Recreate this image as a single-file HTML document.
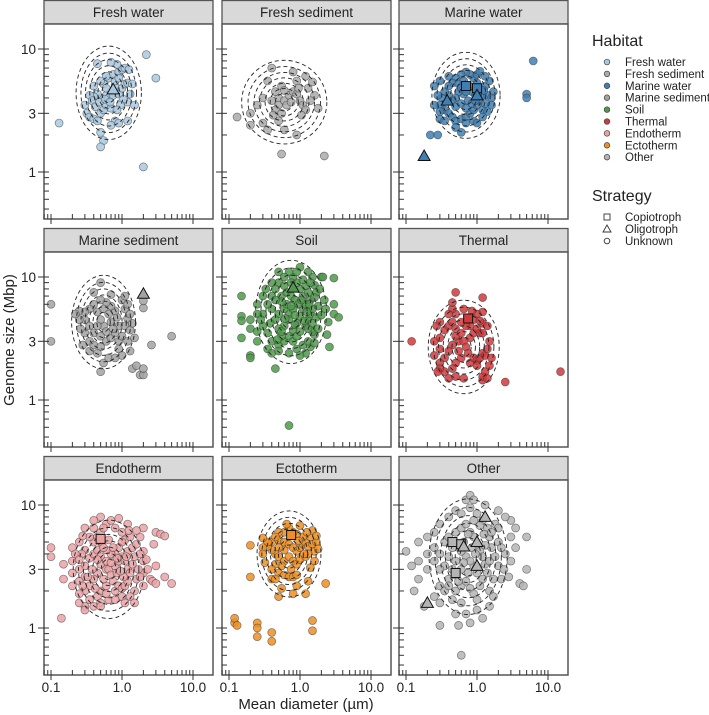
<!DOCTYPE html>
<html><head><meta charset="utf-8"><style>
body{margin:0;background:#fff}
svg{display:block;font-family:"Liberation Sans",Arial,sans-serif}
</style></head><body>
<svg id="chart" width="709" height="715" viewBox="0 0 709 715">
<g id="panels"></g>
<text x="306" y="709" font-size="15" text-anchor="middle" fill="#222">Mean diameter (µm)</text>
<text transform="translate(14,340) rotate(-90)" font-size="15" text-anchor="middle" fill="#222">Genome size (Mbp)</text>
<g font-size="11.5" fill="#222">
<text x="592" y="46" font-size="16">Habitat</text>
<g id="hab"></g>
<text x="592" y="201" font-size="16">Strategy</text>
<g id="strat"></g>
</g>
</svg>
<script>
const habitats=["Fresh water","Fresh sediment","Marine water","Marine sediment","Soil","Thermal","Endotherm","Ectotherm","Other"];
const colors=["#a9c9e1","#aaaaaa","#3f7fb3","#a2a2a2","#4e9a4a","#cf3a3c","#eba2a4","#ed8f22","#b4b4b4"];
const freshWater=[[0.7,4.5],[0.6,4.2],[0.8,5],[0.5,4],[0.45,4.3],[0.4,4.1],[0.35,4.2],[0.55,5.2],[0.65,5.8],[0.75,6.2],[0.9,6.5],[1.0,6.8],[0.85,7.5],[0.7,7.8],[0.45,7.6],[1.1,7],[0.6,6],[0.5,5.5],[0.4,5],[0.3,3.5],[0.32,3],[0.35,2.8],[0.4,2.7],[0.45,2.6],[0.5,3],[0.55,3.2],[0.6,3.5],[0.7,3.3],[0.8,2.6],[0.7,2.4],[0.9,2.5],[0.5,2.1],[0.55,1.8],[0.5,1.6],[0.65,4],[0.75,4.2],[0.9,4.3],[1.0,4.8],[1.1,5.2],[1.2,3.7],[1.05,3.9],[0.95,3.5],[0.85,3.2],[0.6,4.8],[0.8,5.5],[0.9,5.8],[0.38,3.8],[0.42,3.4],[0.48,3.7],[0.58,3.9],[0.68,3.7],[0.13,2.5],[2.2,9],[3,5.8],[2,1.1],[1.2,5.3],[1.25,6.8],[1.3,4.3],[1.4,5.2],[1.2,2.6],[1.5,3.5]];
const freshSediment=[[0.5,4],[0.45,4.5],[0.55,5],[0.5,3.5],[0.45,3.2],[0.55,3],[0.6,3.8],[0.7,4.2],[0.8,4.5],[0.9,4.3],[1.0,3.8],[1.1,3.5],[1.2,3.2],[0.9,5.5],[0.8,6.5],[0.4,7],[0.35,5.5],[0.3,4],[0.25,3.5],[0.2,3],[0.13,2.8],[0.2,2.4],[0.3,2.5],[0.35,2.2],[0.5,2.6],[0.6,2.2],[0.9,2],[1.6,4.2],[1.8,3.3],[0.55,1.4],[2.2,1.35],[0.65,3.5],[0.75,3.7],[0.4,3.8],[0.42,2.9],[1.05,2.9],[0.95,4.8],[0.6,4.6],[1.3,4.8],[1.4,3.8],[1.5,5.4],[1.2,6]];
const marineWater=[[0.65,4.3],[0.55,4.5],[0.5,4],[0.45,3.8],[0.4,4.2],[0.35,4.5],[0.32,4],[0.3,3.5],[0.35,3.2],[0.4,3],[0.45,2.8],[0.5,2.6],[0.6,2.7],[0.7,2.8],[0.8,3],[0.9,3.2],[1.0,3.5],[1.1,3.8],[1.2,4.2],[1.1,4.8],[1.0,5.3],[0.9,5.8],[0.8,6.2],[0.7,6.5],[0.6,6.2],[0.5,5.8],[0.45,5.3],[0.4,5],[0.55,5.2],[0.65,5.5],[0.75,5],[0.85,4.5],[0.95,4.2],[0.75,3.8],[0.6,3.6],[0.5,3.4],[0.7,3.3],[0.85,3.6],[0.6,4.8],[0.7,4.5],[0.3,2.7],[0.35,2.6],[0.5,2.3],[0.7,2.5],[0.9,2.6],[1.2,3.2],[1.3,3.6],[1.4,4.2],[1.3,5],[1.0,6.2],[0.4,6],[0.25,5],[0.25,3.5],[0.3,3.1],[0.6,2.1],[0.22,2.0],[0.28,2.0],[1.7,4.5],[1.6,4],[1.4,3.1],[5,4.3],[5,4],[6.2,8],[1.5,5.5],[1.3,6],[1.2,2.8],[1.0,2.5],[1.6,3.5],[0.28,4.2],[0.3,5.5],[1.1,6.6],[0.95,3.8],[1.25,4.6]];
const marineSediment=[[0.55,4],[0.5,4.5],[0.45,4],[0.4,3.5],[0.35,4],[0.3,4.5],[0.3,3.5],[0.35,3],[0.4,2.8],[0.5,2.7],[0.6,3],[0.7,3.2],[0.8,3.5],[0.9,4],[0.85,4.7],[0.8,5.3],[0.7,5.8],[0.6,6.2],[0.5,6.5],[0.4,6],[0.35,5.5],[0.3,5.2],[0.45,5.2],[0.55,5.5],[0.65,5],[0.7,4.3],[0.6,3.6],[0.5,3.3],[0.75,3.8],[0.9,3],[1.0,3.3],[1.1,4],[1.2,4.6],[1.1,5.5],[1.0,6.5],[0.7,7.2],[0.5,9],[0.4,7.5],[0.25,4.5],[0.25,5.3],[0.28,2.8],[0.35,2.5],[0.45,2.4],[0.55,2],[0.5,1.7],[0.65,2.2],[0.9,2.6],[1.2,3],[1.3,3.7],[1.4,1.8],[1.6,1.9],[1.8,1.6],[2,1.6],[2,1.8],[2.6,2.8],[5,3.3],[0.1,6],[0.1,3],[2,5.6],[2,6.4],[1.3,5],[1.4,4.2],[1.2,6],[1.5,3.2],[1.3,2.5],[0.26,3.8],[0.22,5],[1.1,7],[1.0,2.3],[0.8,2.2]];
const soil=[[0.7,5],[0.6,5.5],[0.5,5],[0.45,4.5],[0.4,5.5],[0.35,6],[0.3,5],[0.3,4],[0.35,3.5],[0.4,3],[0.5,2.8],[0.6,3],[0.7,3.3],[0.8,3.7],[0.9,4.2],[1.0,4.8],[1.1,5.5],[1.2,6],[1.1,7],[1.0,8],[0.9,9],[0.8,10],[0.7,11],[0.6,10],[0.5,9],[0.45,8],[0.4,7],[0.55,7],[0.65,7.5],[0.75,7],[0.85,6.5],[0.95,6],[0.8,5.5],[0.7,4.5],[0.6,4],[0.5,3.8],[0.55,3.3],[0.8,3],[0.9,3.3],[1.0,3.6],[1.2,4],[1.3,4.5],[1.4,5],[1.5,5.5],[1.4,6.5],[1.3,7.5],[1.2,8.5],[1.1,9.5],[1.5,10],[2,10],[2.1,10],[1.3,11],[1.0,12],[0.5,11],[0.4,9],[0.3,7],[0.25,6],[0.25,5],[0.2,4.5],[0.15,7],[0.15,4.8],[0.15,4.4],[0.15,3.2],[0.2,3.8],[0.25,3],[0.35,2.6],[0.4,2.4],[0.5,2.5],[0.7,2.4],[0.9,2.6],[1.1,2.8],[1.4,2.7],[1.6,3.4],[1.5,3.6],[1.7,4.7],[2.0,4.9],[2.5,4.3],[3,5],[3.5,4.7],[3,6],[3,9.8],[1.7,7.5],[1.6,8.6],[0.45,1.8],[0.2,2.3],[0.2,2.2],[0.7,0.62],[0.65,6],[0.55,6.3],[0.75,5.8],[0.62,4.6],[0.85,4.9],[1.3,3],[1.5,4.2],[1.8,5.8],[1.6,6.8],[1.9,8],[1.4,9],[1.8,3.8],[2.2,6.5],[1.3,3.8],[1.2,2.4],[1.6,2.9],[2.4,3.4],[0.28,4.5],[0.25,3.6],[0.33,8],[0.9,11],[1.15,4.4],[1.25,5.2],[1.0,2.3],[0.45,6.5],[0.38,4.2],[0.6,8.5],[0.75,9],[0.55,3.6],[0.85,4.1],[1.05,6.5],[1.35,6],[0.48,3.1],[2.6,2.7],[2.3,5.5]];
const thermal=[[0.55,3],[0.5,3.3],[0.45,2.8],[0.4,2.5],[0.35,2.2],[0.3,2],[0.3,2.6],[0.3,3.2],[0.35,3.7],[0.4,4],[0.45,4.3],[0.5,3.8],[0.6,3.5],[0.65,3],[0.7,2.7],[0.75,2.4],[0.6,2.2],[0.5,2],[0.45,1.8],[0.35,1.7],[0.4,1.5],[0.5,1.55],[0.65,1.5],[0.55,2.5],[0.8,3.2],[0.9,3.5],[1.0,3.8],[1.1,3.5],[1.2,3.5],[1.2,4.2],[1.2,5.2],[1.0,5],[0.9,4.5],[0.8,4],[0.7,4],[0.6,4.3],[0.5,5],[0.45,5.5],[0.4,5],[0.3,4.3],[0.27,4],[0.3,1.8],[0.28,1.7],[0.8,2],[0.9,2.2],[1.0,2.1],[1.1,2.2],[1.2,2.4],[1.0,1.9],[1.2,1.45],[1.3,2.3],[1.2,1.55],[1.4,1.5],[2.5,1.4],[15,1.7],[0.12,3],[0.5,7.5],[1.2,6.8],[0.45,6.2],[0.65,5.5],[1.5,3],[1.4,2.6],[1.6,2.2],[1.4,4],[0.25,2.3],[0.25,3],[1.3,1.7],[1.5,1.9],[0.85,5.3],[1.1,4.4]];
const endotherm=[[0.6,3],[0.5,3.3],[0.45,2.8],[0.4,2.5],[0.35,2.2],[0.3,2],[0.3,2.6],[0.3,3.2],[0.35,3.7],[0.4,4],[0.45,4.3],[0.5,3.8],[0.6,3.5],[0.65,3],[0.7,2.7],[0.75,2.4],[0.6,2.2],[0.5,2],[0.45,1.8],[0.35,1.7],[0.4,1.5],[0.5,1.6],[0.65,1.7],[0.55,2.5],[0.8,3.2],[0.9,3.5],[1.0,3.8],[1.1,3.5],[1.2,3],[1.2,4.2],[1.1,5.2],[1.0,5],[0.9,4.5],[0.8,4],[0.7,4],[0.6,4.3],[0.5,5],[0.45,5.5],[0.4,5],[0.3,4.3],[0.27,4],[0.25,3],[0.25,2.4],[0.25,1.9],[0.3,1.5],[0.8,2],[0.9,2.2],[1.0,2.1],[1.1,2.2],[1.2,2.4],[1.0,1.8],[1.3,2.8],[1.4,3.3],[1.5,3.8],[1.4,4.5],[1.3,5.5],[1.0,6],[0.8,6.5],[0.6,7],[0.5,6],[0.4,6.5],[0.35,5.5],[0.25,5],[0.2,4.5],[0.2,3.5],[0.2,2.8],[0.2,2.2],[0.15,3.3],[0.15,2.5],[0.1,4.5],[0.1,3.8],[0.14,1.2],[0.3,1.4],[0.5,1.5],[1.6,2.5],[2,2.8],[2,3.5],[2,4.2],[2.5,2.5],[2.7,2.4],[3,2.3],[3,3.2],[2.8,4.8],[3,6],[3.5,5.8],[4,5.6],[4,2.6],[5,2.3],[2,6.5],[1.8,5.5],[1.6,6.2],[0.7,7.5],[0.9,7.8],[0.5,8],[0.3,6.5],[0.4,7.5],[1.2,7],[0.7,3.4],[0.85,2.8],[0.55,4.5],[1.5,2],[1.7,3],[1.8,4],[2.2,3.6],[1.6,4.8],[2.0,2.2],[1.3,1.8],[1.5,1.6],[0.25,1.6],[0.22,4],[0.25,3.6],[0.28,2.2],[0.28,5.6],[1.25,6.2],[1.15,3.8],[1.05,2.6],[0.95,2.9],[0.85,3.7],[0.75,4.5],[0.65,5.2],[0.55,6.5],[0.45,3.6],[0.38,3],[0.33,2.6],[0.42,2.1],[0.6,1.9],[0.8,1.7],[1.1,1.6],[1.8,2.6],[2.3,3]];
const ectotherm=[[0.6,4.3],[0.5,4.5],[0.45,4],[0.4,4.3],[0.35,4.6],[0.4,5],[0.5,5.2],[0.6,5],[0.7,4.8],[0.8,4.5],[0.9,4.2],[1.0,4.5],[1.1,4.8],[1.2,5],[1.3,4.6],[1.5,4.8],[1.6,4.2],[1.7,5],[1.4,5.5],[1.1,5.5],[0.9,5.8],[0.8,6],[0.7,6.5],[0.6,6],[0.5,6],[0.45,5.5],[0.35,5],[0.3,4.5],[0.3,4],[0.2,4.7],[0.5,3.8],[0.6,3.5],[0.7,3.8],[0.8,3.5],[0.9,3.3],[1.0,3.6],[1.2,3.8],[1.3,4],[0.55,3.2],[0.45,3.3],[0.4,3],[0.5,2.8],[0.6,2.7],[0.7,2.6],[0.8,2.6],[0.9,2.7],[0.75,3],[0.4,2.5],[0.45,2.5],[0.55,2.1],[0.5,1.8],[0.8,1.9],[1.2,1.9],[0.9,2.2],[0.2,2.6],[2.3,2.3],[0.12,1.1],[0.12,1.2],[0.13,1.05],[0.25,1.1],[0.25,1.0],[0.25,0.85],[0.4,0.92],[0.4,0.78],[1.5,1.15],[1.5,0.95],[0.65,7],[1.0,6.8],[1.5,6.2],[1.6,3.5],[1.4,3.1],[1.8,4.4],[1.3,2.4],[0.32,3.4],[0.3,5.4],[1.25,6],[1.7,5.6],[0.95,5.1],[1.15,4]];
const other=[[0.7,3.8],[0.6,4.2],[0.5,3.5],[0.45,4.5],[0.4,3.8],[0.35,3.2],[0.3,4],[0.3,3],[0.25,3.5],[0.25,4.5],[0.2,3],[0.2,4],[0.15,3.5],[0.15,2.5],[0.35,5],[0.4,5.5],[0.5,6],[0.6,6.5],[0.7,7],[0.8,6],[0.9,5.5],[1.0,4.8],[1.1,4.2],[1.2,3.8],[1.3,3.3],[1.4,2.8],[1.2,2.5],[1.0,2.8],[0.9,3.2],[0.8,3.5],[0.6,3],[0.5,2.7],[0.4,2.5],[0.3,2.2],[0.35,2],[0.5,2],[0.6,2.2],[0.7,2.4],[0.8,2.1],[0.9,1.9],[1.0,1.7],[0.6,1.6],[0.45,1.7],[0.3,1.6],[0.25,1.8],[0.5,1.3],[0.7,1.3],[0.8,1.1],[0.55,1.05],[0.3,1.05],[0.6,0.6],[1.0,1.4],[1.5,2],[1.5,3.5],[1.6,4.5],[1.5,5.5],[1.4,6.5],[1.2,7.5],[1.0,8.5],[0.8,9.5],[0.7,11],[0.8,12],[0.9,11],[1.3,10],[0.5,9],[0.4,8],[0.3,7],[0.25,6],[0.2,5.5],[0.15,5],[1.8,7],[2,5],[2,3.2],[2.2,2.5],[2.5,4],[3,3.5],[3,5.5],[3.5,4.5],[4,2.3],[4.5,2.2],[5,3],[5,5.5],[3,7.5],[2.5,8],[2,9],[0.18,1.5],[0.13,2],[1.2,1.2],[1.5,1.5],[0.65,5],[0.75,5.8],[0.55,4.8],[0.85,4.5],[0.95,4],[0.65,3.4],[0.75,2.8],[0.45,3],[0.55,2.4],[0.4,2.2],[0.12,3.2],[0.1,4.2],[1.7,2.5],[1.8,3.8],[2.2,4.5],[2.4,3],[1.6,6],[1.7,1.8],[2,6.5],[2.8,2.6],[3.5,6.5],[1.3,4.7],[1.1,2.2],[1.25,5.8],[1.1,6.8],[0.9,7.5],[0.6,8.5]];
const series=[freshWater,freshSediment,marineWater,marineSediment,soil,thermal,endotherm,ectotherm,other];
const copiotrophs=[[],[],[[0.7,5],[1.0,4.8]],[],[],[[0.75,4.6]],[[0.5,5.3]],[[0.75,5.7]],[[0.45,5],[0.6,4.8],[0.5,2.8]]];
const oligotrophs=[[[0.75,4.7]],[],[[0.18,1.35],[0.38,3.8],[1.0,4.2]],[[2,7.3]],[[0.8,8.2]],[],[],[],[[0.2,1.6],[1.3,8],[1.0,5],[1.0,3.2],[0.65,4.6]]];
const contourCx=[0.65,0.6,0.7,0.55,0.75,0.65,0.65,0.7,0.75];
const contourCy=[4.4,3.7,4.2,4.3,5.2,2.7,3.0,4.0,3.8];
const contourRx=[0.46,0.6,0.48,0.45,0.5,0.5,0.5,0.45,0.55];
const contourRy=[0.38,0.34,0.35,0.38,0.42,0.38,0.4,0.35,0.47];
const xTickLabels=["0.1","1.0","10.0"];
const xTickValues=[0.1,1,10];
const yTickLabels=["1","3","10"];
const yTickValues=[1,3,10];

const NS="http://www.w3.org/2000/svg";
function mk(tag,attrs,parent){const e=document.createElementNS(NS,tag);for(const k in attrs)e.setAttribute(k,attrs[k]);parent.appendChild(e);return e;}
const colX=[0,178,355], rowY=[0,228,456];
function xs(d,c){return 51+colX[c]+Math.log10(d/0.1)*71;}
function ys(g,r){return 172+rowY[r]-Math.log10(g)*123;}
const root=document.getElementById('panels');
habitats.forEach((h,i)=>{
  const c=i%3,r=Math.floor(i/3);
  const L=44+colX[c],R=213+colX[c],T=24+rowY[r],B=219+rowY[r];
  const g=mk('g',{},root);
  
  
  const strip=mk('rect',{x:L,y:rowY[r]+0.5,width:R-L,height:23.5,fill:'#d9d9d9',stroke:'#555','stroke-width':1.3},g);
  
  
  const st=mk('text',{x:(L+R)/2,y:rowY[r]+17,'font-size':13.5,'text-anchor':'middle',fill:'#222'},g);
  st.textContent=h;
  
  
  mk('rect',{x:L,y:T,width:R-L,height:B-T,fill:'#fff',stroke:'none'},g);
  const cp=mk('clipPath',{id:'cp'+i},g);mk('rect',{x:L,y:T,width:R-L,height:B-T},cp);
  const pts=mk('g',{'clip-path':'url(#cp'+i+')'},g);
  series[i].forEach(p=>{
    const e=mk('circle',{cx:xs(p[0],c),cy:ys(p[1],r),r:4,fill:colors[i],'fill-opacity':0.85,stroke:'#333','stroke-opacity':0.6,'stroke-width':0.7},pts);
    
    
  });
  [1,0.85,0.71,0.58,0.45,0.33,0.21].forEach(f=>{
    const e=mk('ellipse',{cx:xs(contourCx[i],c),cy:ys(contourCy[i],r),rx:contourRx[i]*71*f,ry:contourRy[i]*123*f,fill:'none',stroke:'#222','stroke-width':0.9,'stroke-dasharray':'4,3'},pts);
    
    
  });
  copiotrophs[i].forEach(p=>{
    const x=xs(p[0],c),y=ys(p[1],r);
    const e=mk('rect',{x:x-4.5,y:y-4.5,width:9,height:9,fill:colors[i],stroke:'#111','stroke-width':1},pts);
    
    
  });
  oligotrophs[i].forEach(p=>{
    const x=xs(p[0],c),y=ys(p[1],r);
    const e=mk('polygon',{points:`${x},${y-6} ${x-6},${y+4.5} ${x+6},${y+4.5}`,fill:colors[i],stroke:'#111','stroke-width':1},pts);
    
    
  });
  mk('rect',{x:L,y:T,width:R-L,height:B-T,fill:'none',stroke:'#555','stroke-width':1.5},g);
  const yt=[0.5,0.6,0.7,0.8,0.9,1,2,3,4,5,6,7,8,9,10];
  yt.forEach(v=>{const y=ys(v,r);if(y<T||y>B)return;const maj=yTickValues.includes(v);
    mk('line',{x1:maj?L-6:L,x2:L+5,y1:y,y2:y,stroke:'#333','stroke-width':1},g);});
  const xt=[0.08,0.09,0.1,0.2,0.3,0.4,0.5,0.6,0.7,0.8,0.9,1,2,3,4,5,6,7,8,9,10];
  xt.forEach(v=>{const x=xs(v,c);if(x<L||x>R)return;const maj=xTickValues.includes(v);
    mk('line',{x1:x,x2:x,y1:B-5,y2:maj?B+5:B,stroke:'#333','stroke-width':1},g);});
  if(c===0){yTickValues.forEach((v,k)=>{const t=mk('text',{x:L-8,y:ys(v,r)+5,'font-size':13.5,'text-anchor':'end',fill:'#222'},g);t.textContent=yTickLabels[k];
    
    });}
  if(r===2){xTickValues.forEach((v,k)=>{const t=mk('text',{x:xs(v,c),y:B+17,'font-size':13.5,'text-anchor':'middle',fill:'#222'},g);t.textContent=xTickLabels[k];
    
    });}
});
const hab=document.getElementById('hab');
habitats.forEach((h,i)=>{
  const y=62+i*11.9;
  const c=mk('circle',{cx:607,cy:y,r:2.8,fill:colors[i],stroke:'#444','stroke-width':0.7},hab);
  
  
  const t=mk('text',{x:625,y:y+4},hab);t.textContent=h;
  
  
});
const strat=document.getElementById('strat');
["Copiotroph","Oligotroph","Unknown"].forEach((s,i)=>{
  const y=217+i*12;
  let e;
  if(i===0)e=mk('rect',{x:604,y:y-3,width:6,height:6,fill:'none',stroke:'#333','stroke-width':0.9},strat);
  else if(i===1)e=mk('polygon',{points:`607,${y-4} 603,${y+3} 611,${y+3}`,fill:'none',stroke:'#333','stroke-width':0.9},strat);
  else e=mk('circle',{cx:607,cy:y,r:2.8,fill:'none',stroke:'#333','stroke-width':0.9},strat);
  
  
  const t=mk('text',{x:625,y:y+4},strat);t.textContent=s;
  
  
});
</script>
</body></html>
